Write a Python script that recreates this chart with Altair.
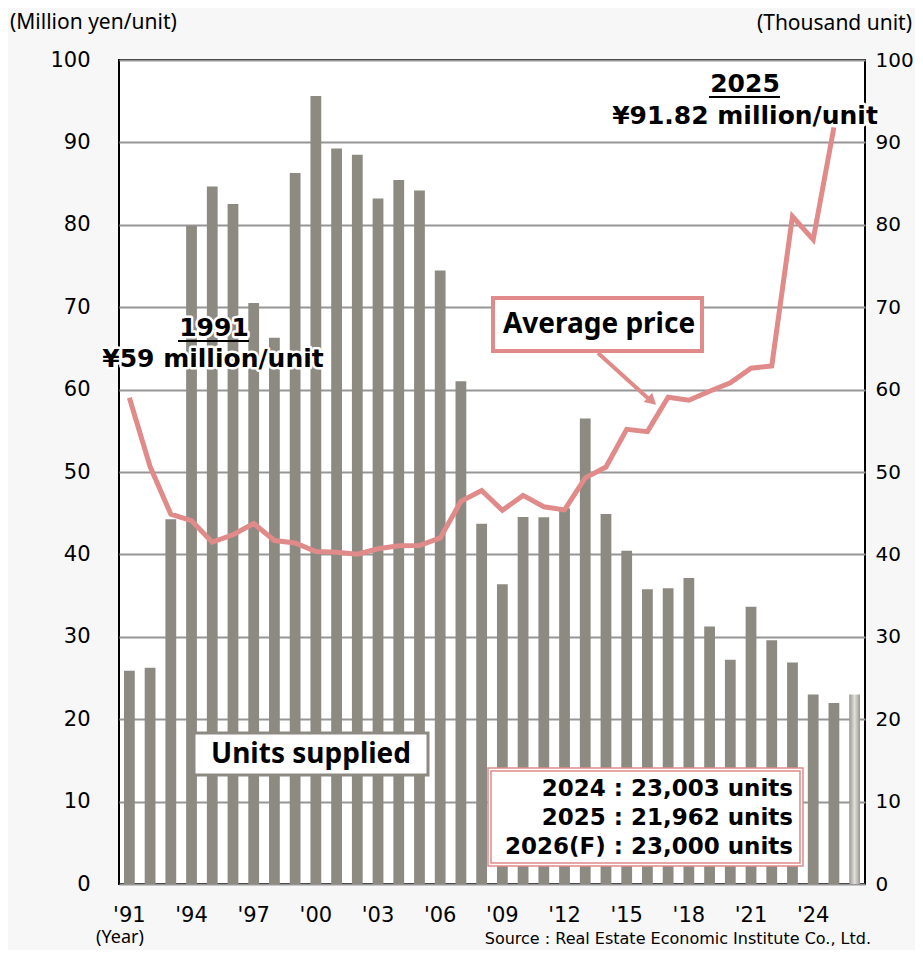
import altair as alt
import pandas as pd

# ---------------- data ----------------
years = list(range(1991, 2027))
units = [25877, 26248, 44270, 79897, 84636, 82531, 70495, 66288, 86297, 95635,
         89256, 88516, 83183, 85429, 84148, 74463, 61021, 43733, 36376, 44535,
         44499, 45602, 56478, 44913, 40449, 35772, 35898, 37132, 31238, 27228,
         33636, 29569, 26886, 23003, 21962, 23000]
price_years = list(range(1991, 2026))
prices = [59.00, 50.66, 44.88, 44.09, 41.48, 42.38, 43.74, 41.68, 41.38, 40.34,
          40.26, 40.03, 40.69, 41.04, 41.08, 42.00, 46.44, 47.75, 45.35, 47.16,
          45.78, 45.40, 49.29, 50.60, 55.18, 54.90, 59.08, 58.71, 59.80, 60.83,
          62.60, 62.88, 81.01, 78.20, 91.82]
forecast_year = 2026
tick_years = list(range(1991, 2025, 3))

left_title = "(Million yen/unit)"
right_title = "(Thousand unit)"
year_title = "(Year)"
source_text = "Source : Real Estate Economic Institute Co., Ltd."
ann_1991 = ["1991", "¥59 million/unit"]
ann_2025 = ["2025", "¥91.82 million/unit"]
avg_label = "Average price"
units_label = "Units supplied"
legend_lines = ["2024 : 23,003 units", "2025 : 21,962 units", "2026(F) : 23,000 units"]

# ---------------- styles ----------------
BAR = "#8d8a82"
LINE = "#e08a8a"
FONT = "Noto Sans"
WIDE = "DejaVu Sans"
W, H = 746, 824

bars_df = pd.DataFrame({"year": years, "units_k": [u / 1000 for u in units]})
actual_df = bars_df[bars_df["year"] != forecast_year]
fc_df = bars_df[bars_df["year"] == forecast_year]
line_df = pd.DataFrame({"year": price_years, "price": prices})

xscale = alt.Scale(domain=years, paddingInner=0.48, paddingOuter=0.24)
xaxis = alt.Axis(values=tick_years, labelExpr="\"'\" + substring(toString(datum.value), 2)",
                 labelAngle=0, ticks=False, domain=False, labelFontSize=21,
                 labelFont=WIDE, labelColor="#000", labelPadding=20, title=None)
x_enc = alt.X("year:O", scale=xscale, axis=xaxis)

yr_scale = alt.Scale(domain=[0, 100], nice=False)
bars = alt.Chart(actual_df).mark_bar(color=BAR).encode(
    x=x_enc,
    y=alt.Y("units_k:Q", scale=yr_scale,
            axis=alt.Axis(orient="right", values=list(range(0, 101, 10)), grid=False,
                          ticks=False, domain=False, labelFontSize=20, labelFont=WIDE,
                          labelColor="#000", labelPadding=10, title=None)),
)
fc_bar = alt.Chart(fc_df).mark_bar(
    color=alt.Gradient(gradient="linear", x1=0, x2=1, y1=0, y2=0,
                       stops=[alt.GradientStop(color="#9a978f", offset=0),
                              alt.GradientStop(color="#e2e0dc", offset=0.5),
                              alt.GradientStop(color="#9a978f", offset=1)])
).encode(x=x_enc, y=alt.Y("units_k:Q", scale=yr_scale, axis=None))

grid_layer = alt.Chart(line_df).mark_line(opacity=0).encode(
    x=x_enc,
    y=alt.Y("price:Q", scale=alt.Scale(domain=[0, 100], nice=False),
            axis=alt.Axis(orient="left", values=list(range(0, 101, 10)), grid=True,
                          gridColor="#969696", gridWidth=2, ticks=False, domain=False,
                          labelFontSize=21, labelFont=WIDE, labelColor="#000",
                          labelPadding=29, title=None)),
)
line = alt.Chart(line_df).mark_line(color=LINE, strokeWidth=5, strokeJoin="miter").encode(
    x=x_enc, y=alt.Y("price:Q", scale=alt.Scale(domain=[0, 100], nice=False), axis=None))

one = pd.DataFrame({"k": [0]})


def txt(s, x, y, size, bold=False, align="center", halo=False, color="#000",
        baseline="middle", font=FONT):
    base = alt.Chart(pd.DataFrame({"t": [s]}))
    kw = dict(font=font, fontSize=size, fontWeight="bold" if bold else "normal",
              align=align, baseline=baseline)
    layers = []
    if halo:
        layers.append(base.mark_text(stroke="white", strokeWidth=5, strokeJoin="round",
                                     color="white", **kw).encode(
            text="t:N", x=alt.value(x), y=alt.value(y)))
    layers.append(base.mark_text(color=color, **kw).encode(
        text="t:N", x=alt.value(x), y=alt.value(y)))
    return layers


def box(x1, y1, x2, y2, stroke, sw, fill="white"):
    return alt.Chart(one).mark_rect(fill=fill, stroke=stroke, strokeWidth=sw).encode(
        x=alt.value(x1), x2=alt.value(x2), y=alt.value(y1), y2=alt.value(y2))


def seg(x1, y1, x2, y2, color, sw):
    return alt.Chart(one).mark_rule(color=color, strokeWidth=sw).encode(
        x=alt.value(x1), x2=alt.value(x2), y=alt.value(y1), y2=alt.value(y2))


ox, oy = 119, 60  # plot origin in page pixels
layers = [grid_layer, bars, fc_bar, line]

# 1991 annotation
layers += txt(ann_1991[0], 214 - ox, 328 - oy, 25, bold=True, halo=True, font=WIDE)
layers.append(seg(178 - ox, 341 - oy, 249 - ox, 341 - oy, "#000", 2))
layers += txt(ann_1991[1], 213 - ox, 359 - oy, 25, bold=True, halo=True, font=WIDE)
# 2025 annotation
layers += txt(ann_2025[0], 745 - ox, 84 - oy, 25, bold=True, halo=True, font=WIDE)
layers.append(seg(709 - ox, 97 - oy, 780 - ox, 97 - oy, "#000", 2))
layers += txt(ann_2025[1], 745 - ox, 116 - oy, 25, bold=True, halo=True, font=WIDE)

# Average price callout
layers.append(seg(598 - ox, 353 - oy, 651 - ox, 401 - oy, LINE, 4))
layers.append(alt.Chart(one).mark_point(shape="triangle-up", filled=True, color=LINE,
                                        size=160, angle=132, opacity=1).encode(
    x=alt.value(652 - ox), y=alt.value(401 - oy)))
layers.append(box(493 - ox, 298 - oy, 702 - ox, 351 - oy, LINE, 4))
layers += txt(avg_label, 599 - ox, 325 - oy, 28, bold=True)

# Units supplied label
layers.append(box(194 - ox, 733 - oy, 428 - ox, 775 - oy, BAR, 3))
layers += txt(units_label, 311 - ox, 755 - oy, 28, bold=True)

# Legend box (double pink border)
layers.append(box(488 - ox, 768 - oy, 803 - ox, 866 - oy, LINE, 1.5))
layers.append(box(491 - ox, 771 - oy, 800 - ox, 863 - oy, LINE, 1.5))
for i, s in enumerate(legend_lines):
    layers += txt(s, 793 - ox, 789 + 29 * i - oy, 23, bold=True, align="right", font=WIDE)

# titles
layers += txt(left_title, 10 - ox, 23 - oy, 21, align="left")
layers += txt(right_title, 912 - ox, 24 - oy, 21, align="right")
layers += txt(year_title, 120 - ox, 938 - oy, 18)
layers += txt(source_text, 871 - ox, 939 - oy, 16, align="right", font=WIDE)

chart = alt.layer(*layers).resolve_scale(y="independent").properties(
    width=W, height=H,
    padding={"left": ox - 8, "top": oy - 8, "right": 50, "bottom": 66},
    autosize=alt.AutoSizeParams(type="none"),
    background="#f7f7f7",
).configure_view(stroke="#000", strokeWidth=2, fill="white")

chart.save("out.html", embed_options={"renderer": "svg", "actions": False})
